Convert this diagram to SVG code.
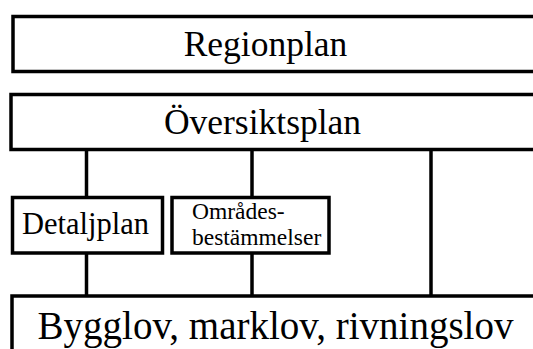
<svg xmlns="http://www.w3.org/2000/svg" width="533" height="349" viewBox="0 0 533 349">
  <style>
    .box { fill: #ffffff; stroke: #000000; stroke-width: 3.5; }
    .link { stroke: #000000; stroke-width: 3.5; fill: none; }
    .lbl { font-family: "Liberation Serif", "Times New Roman", serif; fill: #000000; text-anchor: middle; }
    .lbl.left { text-anchor: start; }
  </style>
  <rect width="533" height="349" fill="#ffffff"/>

  <!-- connectors -->
  <g id="connectors">
    <line class="link" x1="86.5" y1="150" x2="86.5" y2="197"/>
    <line class="link" x1="252" y1="150" x2="252" y2="197"/>
    <line class="link" x1="431" y1="150" x2="431" y2="296"/>
    <line class="link" x1="86.5" y1="253" x2="86.5" y2="296"/>
    <line class="link" x1="252" y1="253" x2="252" y2="296"/>
  </g>

  <g id="regionplan">
    <rect class="box" x="13" y="16.5" width="540" height="55"/>
    <text class="lbl" x="265.5" y="56" font-size="35.5">Regionplan</text>
  </g>

  <g id="oversiktsplan">
    <rect class="box" x="11" y="94.5" width="540" height="55"/>
    <text class="lbl" x="262.5" y="133.5" font-size="35.5">Översiktsplan</text>
  </g>

  <g id="detaljplan">
    <rect class="box" x="12.5" y="197.5" width="150" height="55.5"/>
    <text class="lbl" x="85.5" y="234" font-size="30.5">Detaljplan</text>
  </g>

  <g id="omradesbestammelser">
    <rect class="box" x="172" y="197.5" width="157" height="55.5"/>
    <text class="lbl left" x="192" y="219" font-size="23.5">Områdes-</text>
    <text class="lbl left" x="192" y="245" font-size="23.5">bestämmelser</text>
  </g>

  <g id="lov">
    <rect class="box" x="12" y="296" width="540" height="70"/>
    <text class="lbl" x="275.5" y="339" font-size="39">Bygglov, marklov, rivningslov</text>
  </g>
</svg>
